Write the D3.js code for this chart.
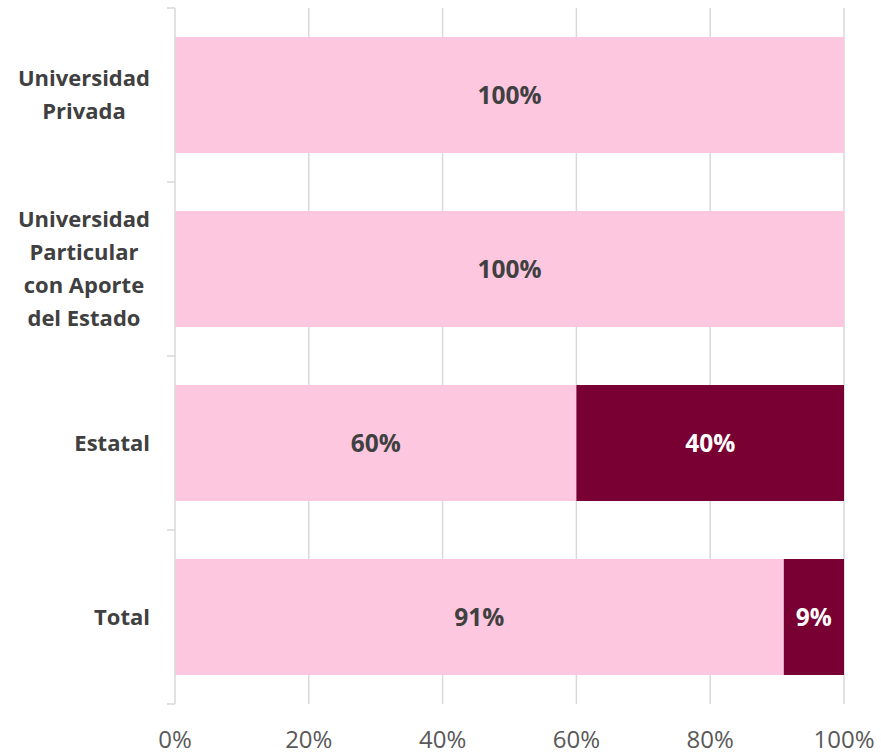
<!DOCTYPE html>
<html>
<head>
<meta charset="utf-8">
<script src="https://cdn.jsdelivr.net/npm/d3@7"></script>
<style>
  body { margin: 0; background: #fff; }
  svg { display: block; }
</style>
</head>
<body>
<script>
var W = 881, H = 755;
var margin = { top: 8, right: 37, bottom: 51, left: 175 };

// data
var categories = [
  "Universidad Privada",
  "Universidad Particular con Aporte del Estado",
  "Estatal",
  "Total"
];
var catLines = [
  ["Universidad", "Privada"],
  ["Universidad", "Particular", "con Aporte", "del Estado"],
  ["Estatal"],
  ["Total"]
];
var seriesA = [100, 100, 60, 91];   // light pink
var seriesB = [0, 0, 40, 9];        // dark
var xTicks = [0, 20, 40, 60, 80, 100];

var colors = ["#FDC7E0", "#780032"];
var labelColors = ["#404040", "#ffffff"];

var svg = d3.select("body").append("svg")
  .attr("width", W)
  .attr("height", H);

var x = d3.scaleLinear().domain([0, 100]).range([margin.left, W - margin.right]);
var y = d3.scaleBand().domain(categories)
  .range([margin.top, H - margin.bottom])
  .paddingInner(1 / 3).paddingOuter(1 / 6);

// gridlines
svg.append("g").selectAll("line")
  .data(xTicks.slice(1))
  .enter().append("line")
  .attr("x1", function (d) { return x(d); })
  .attr("x2", function (d) { return x(d); })
  .attr("y1", margin.top)
  .attr("y2", H - margin.bottom)
  .attr("stroke", "#d9d9d9")
  .attr("stroke-width", 1.5);

// stacked data
var stacked = categories.map(function (c, i) {
  return [
    { cat: c, x0: 0, x1: seriesA[i], v: seriesA[i], s: 0 },
    { cat: c, x0: seriesA[i], x1: seriesA[i] + seriesB[i], v: seriesB[i], s: 1 }
  ];
});
var segs = d3.merge(stacked).filter(function (d) { return d.v > 0; });

svg.append("g").selectAll("rect")
  .data(segs)
  .enter().append("rect")
  .attr("x", function (d) { return x(d.x0); })
  .attr("width", function (d) { return x(d.x1) - x(d.x0); })
  .attr("y", function (d) { return y(d.cat); })
  .attr("height", y.bandwidth())
  .attr("fill", function (d) { return colors[d.s]; });

svg.append("g").selectAll("text")
  .data(segs)
  .enter().append("text")
  .attr("x", function (d) { return (x(d.x0) + x(d.x1)) / 2; })
  .attr("y", function (d) { return y(d.cat) + y.bandwidth() / 2; })
  .attr("dy", "0.36em")
  .attr("text-anchor", "middle")
  .attr("font-family", "Open Sans, sans-serif")
  .attr("font-weight", "bold")
  .attr("font-size", 24.5)
  .attr("fill", function (d) { return labelColors[d.s]; })
  .text(function (d) { return d.v + "%"; });

// y axis: line plus ticks at band boundaries
var axisG = svg.append("g");
axisG.append("line")
  .attr("x1", x(0)).attr("x2", x(0))
  .attr("y1", margin.top).attr("y2", H - margin.bottom)
  .attr("stroke", "#d9d9d9").attr("stroke-width", 1.5);
var bounds = d3.range(categories.length + 1).map(function (i) {
  return margin.top + i * y.step();
});
axisG.selectAll(".tk").data(bounds).enter().append("line")
  .attr("x1", x(0) - 8).attr("x2", x(0))
  .attr("y1", function (d) { return d; })
  .attr("y2", function (d) { return d; })
  .attr("stroke", "#d9d9d9").attr("stroke-width", 1.5);

// category labels, block right-aligned, lines centered in block
var lineH = 33;
var fontFam = "Open Sans, sans-serif";
categories.forEach(function (c, i) {
  var lines = catLines[i];
  var g = svg.append("g");
  var cy = y(c) + y.bandwidth() / 2;
  var top = cy - (lines.length - 1) * lineH / 2;
  var texts = lines.map(function (l, j) {
    return g.append("text")
      .attr("y", top + j * lineH)
      .attr("dy", "0.36em")
      .attr("text-anchor", "middle")
      .attr("font-family", fontFam)
      .attr("font-weight", "bold")
      .attr("font-size", 22)
      .attr("fill", "#404040")
      .text(l);
  });
  var maxW = d3.max(texts, function (t) { return t.node().getComputedTextLength(); });
  var cx = 150 - maxW / 2;
  texts.forEach(function (t) { t.attr("x", cx); });
});

// x tick labels
svg.append("g").selectAll("text")
  .data(xTicks)
  .enter().append("text")
  .attr("x", function (d) { return x(d); })
  .attr("y", 748)
  .attr("text-anchor", "middle")
  .attr("font-family", fontFam)
  .attr("font-size", 24)
  .attr("fill", "#595959")
  .text(function (d) { return d + "%"; });
</script>
</body>
</html>
